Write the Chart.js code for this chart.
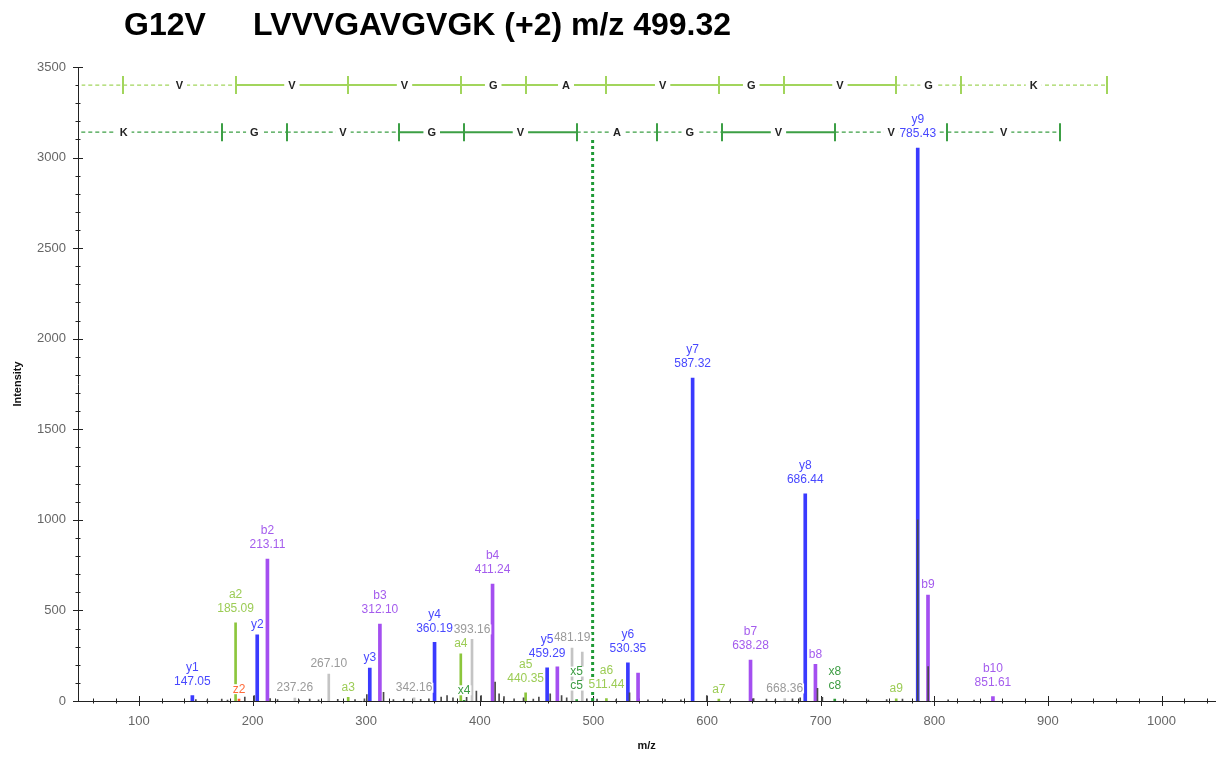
<!DOCTYPE html>
<html lang="en">
<head>
<meta charset="UTF-8">
<title>G12V LVVVGAVGVGK</title>
<script src="https://cdn.jsdelivr.net/npm/chart.js"></script>
<style>
  html, body { margin: 0; padding: 0; background: #fff; }
  #wrap { position: relative; width: 1220px; height: 758px; }
  #spectrum { display: block; }
  .ttl { position: absolute; top: 6px; font: bold 32px "Liberation Sans", Arial, sans-serif; color: #000; white-space: pre; }
</style>
</head>
<body>
<div id="wrap">
  <canvas id="spectrum" width="1220" height="758"></canvas>
  <div class="ttl" style="left:124px">G12V</div>
  <div class="ttl" style="left:253px">LVVVGAVGVGK (+2) m/z 499.32</div>
</div>

<script>
// y ions (blue)
const yIonMz  = [147.05, 204.13, 303.20, 360.19, 459.29, 530.35, 587.32, 686.44, 785.43];
const yIonInt = [30, 365, 182, 324, 183, 211, 1783, 1143, 3053];
const yIonLbl = [['y1', '147.05'], ['y2'], ['y3'], ['y4', '360.19'], ['y5', '459.29'], ['y6', '530.35'], ['y7', '587.32'], ['y8', '686.44'], ['y9', '785.43']];

// b ions (purple)
const bIonMz  = [213.11, 312.10, 411.24, 468.27, 539.30, 638.28, 695.40, 794.47, 851.61];
const bIonInt = [784, 425, 646, 189, 154, 226, 203, 585, 25];
const bIonLbl = [['b2', '213.11'], ['b3', '312.10'], ['b4', '411.24'], [], [], ['b7', '638.28'], ['b8'], ['b9'], ['b10', '851.61']];

// a ions (light green)
const aIonMz  = [185.09, 284.20, 383.30, 440.35, 511.44, 610.40, 766.50];
const aIonInt = [431, 20, 260, 45, 14, 10, 12];
const aIonLbl = [['a2', '185.09'], ['a3'], ['a4'], ['a5', '440.35'], ['a6', '511.44'], ['a7'], ['a9']];

// c / x ions (dark green)
const cxIonMz  = [386.20, 485.30, 712.40];
const cxIonInt = [4, 8, 10];
const cxIonLbl = [['x4'], ['x5', 'c5'], ['x8', 'c8']];

// z ions (orange)
const zIonMz  = [188.10];
const zIonInt = [10];
const zIonLbl = [['z2']];

// unassigned but labelled (grey)
const otherMz  = [237.26, 267.10, 342.16, 393.16, 481.19, 490.20, 668.36];
const otherInt = [16, 149, 18, 340, 292, 270, 14];
const otherLbl = [['237.26'], ['267.10'], ['342.16'], ['393.16'], ['481.19'], [], ['668.36']];

// small unlabelled noise peaks
const noiseMz  = [150.1, 160.2, 172.9, 178.0, 193.2, 201.5, 215.5, 222.0, 241.0, 250.3, 258.1, 275.0, 290.2, 298.5, 300.6,
                  315.3, 324.0, 333.1, 348.0, 355.2, 366.0, 371.2, 376.4, 388.4, 397.0, 401.2, 413.5, 417.0, 421.3, 430.2,
                  438.5, 447.1, 452.0, 462.0, 472.0, 476.5, 494.2, 503.2, 520.0, 531.8, 548.0, 563.1, 577.0, 599.8,
                  620.3, 641.0, 652.3, 660.1, 675.2, 682.0, 697.2, 701.5, 722.0, 742.0, 758.1, 772.0, 785.43, 794.6, 812.2, 835.0];
const noiseInt = [8, 6, 10, 5, 22, 30, 14, 8, 6, 10, 7, 9, 8, 12, 35,
                  48, 8, 10, 9, 12, 22, 30, 18, 20, 55, 30, 105, 40, 25, 12,
                  18, 10, 22, 40, 30, 18, 12, 10, 8, 45, 6, 8, 7, 30,
                  6, 14, 10, 8, 12, 18, 70, 20, 6, 5, 8, 10, 1000, 190, 6, 5];

// precursor
const precursorMz = 499.32;
const precursorTop = 3110;

// sequence ladders: boundaries (first one is the start), residues, observed segments
const aLadderMz   = [0, 86.10, 185.09, 284.20, 383.30, 440.35, 511.44, 610.40, 667.40, 766.50, 823.50, 951.60];
const aLadderRes  = ['L', 'V', 'V', 'V', 'G', 'A', 'V', 'G', 'V', 'G', 'K'];
const aLadderSeen = [false, false, true, true, true, true, true, true, true, false, false];
const aLadderLevel = 3400;

const xLadderMz   = [0, 173.10, 230.10, 329.20, 386.20, 485.30, 556.30, 613.30, 712.40, 811.50, 910.60];
const xLadderRes  = ['K', 'G', 'V', 'G', 'V', 'A', 'G', 'V', 'V', 'V'];
const xLadderSeen = [false, false, false, true, true, false, false, true, false, false];
const xLadderLevel = 3140;

const xTickLabels = [100, 200, 300, 400, 500, 600, 700, 800, 900, 1000];
const yTickLabels = [0, 500, 1000, 1500, 2000, 2500, 3000, 3500];

function pts(mz, ints) {
    return mz.map((m, i) => ({ x: m, y: ints[i] }));
}

function peakSet(mz, ints, lbl, color, textColor, width) {
    return {
        type: 'bar',
        data: pts(mz, ints),
        peakText: lbl,
        textColor: textColor,
        backgroundColor: color,
        borderWidth: 0,
        barThickness: width,
        grouped: false
    };
}

// crossing tick marks on both axes
const axisTicks = {
    id: 'axisTicks',
    beforeDatasetsDraw(chart) {
        const { ctx, chartArea: a, scales: { x, y } } = chart;
        ctx.save();
        ctx.strokeStyle = '#222';
        ctx.lineWidth = 1;
        ctx.beginPath();
        x.ticks.forEach(t => {
            if (t.value % 20) return;
            const px = Math.round(x.getPixelForValue(t.value)) + 0.5;
            const h = t.value % 100 ? 2.5 : 5;
            ctx.moveTo(px, a.bottom - h);
            ctx.lineTo(px, a.bottom + h);
        });
        y.ticks.forEach(t => {
            if (t.value % 100) return;
            const py = Math.round(y.getPixelForValue(t.value)) + 0.5;
            const h = t.value % 500 ? 2.5 : 5;
            ctx.moveTo(a.left - h, py);
            ctx.lineTo(a.left + h, py);
        });
        ctx.stroke();
        ctx.restore();
    }
};

function drawLadder(ctx, x, py, marks, res, seen, color) {
    for (let i = 0; i < res.length; i++) {
        const x0 = x.getPixelForValue(marks[i]);
        const x1 = x.getPixelForValue(marks[i + 1]);
        ctx.strokeStyle = color;
        ctx.lineWidth = seen[i] ? 2 : 1.3;
        ctx.setLineDash(seen[i] ? [] : [4, 3]);
        ctx.beginPath();
        ctx.moveTo(x0, py);
        ctx.lineTo(x1, py);
        ctx.stroke();
    }
    ctx.setLineDash([]);
    ctx.lineWidth = 2;
    ctx.beginPath();
    for (let i = 1; i < marks.length; i++) {
        const px = Math.round(x.getPixelForValue(marks[i]));
        ctx.moveTo(px, py - 9);
        ctx.lineTo(px, py + 9);
    }
    ctx.stroke();
    ctx.font = 'bold 11px "Liberation Sans", Arial, sans-serif';
    ctx.textAlign = 'center';
    ctx.textBaseline = 'middle';
    for (let i = 0; i < res.length; i++) {
        const cx = (x.getPixelForValue(marks[i]) + x.getPixelForValue(marks[i + 1])) / 2;
        const w = ctx.measureText(res[i]).width;
        ctx.fillStyle = '#fff';
        ctx.fillRect(cx - w / 2 - 4, py - 6, w + 8, 12);
        ctx.fillStyle = '#222';
        ctx.fillText(res[i], cx, py + 1);
    }
}

const ladders = {
    id: 'ladders',
    afterDatasetsDraw(chart) {
        const { ctx, chartArea: a, scales: { x, y } } = chart;
        ctx.save();
        ctx.beginPath();
        ctx.rect(a.left + 1, a.top, a.right - a.left - 1, a.bottom - a.top);
        ctx.clip();
        drawLadder(ctx, x, y.getPixelForValue(aLadderLevel), aLadderMz, aLadderRes, aLadderSeen, '#a2d55c');
        drawLadder(ctx, x, y.getPixelForValue(xLadderLevel), xLadderMz, xLadderRes, xLadderSeen, '#3c9f45');
        ctx.restore();
    }
};

const peakLabels = {
    id: 'peakLabels',
    afterDatasetsDraw(chart) {
        const ctx = chart.ctx;
        ctx.save();
        ctx.font = '12px "Liberation Sans", Arial, sans-serif';
        ctx.textAlign = 'center';
        ctx.textBaseline = 'middle';
        for (let i = chart.data.datasets.length - 1; i >= 0; i--) {
            const ds = chart.data.datasets[i];
            if (!ds.peakText) continue;
            chart.getDatasetMeta(i).data.forEach((bar, j) => {
                const lines = ds.peakText[j] || [];
                const n = lines.length;
                lines.forEach((t, k) => {
                    const off = n === 1 ? 10 : 14 + (n - 1 - k) * 14;
                    const ty = bar.y - off;
                    const w = ctx.measureText(t).width;
                    ctx.fillStyle = '#fff';
                    ctx.fillRect(bar.x - w / 2 - 1, ty - 5, w + 2, 10);
                    ctx.fillStyle = ds.textColor;
                    ctx.fillText(t, bar.x, ty);
                });
            });
        }
        ctx.restore();
    }
};

const ctx = document.getElementById('spectrum').getContext('2d');
new Chart(ctx, {
    data: {
        datasets: [
            peakSet(noiseMz, noiseInt, null, '#4a4a4a', '#444', 1),
            {
                type: 'line',
                data: [{ x: precursorMz, y: 0 }, { x: precursorMz, y: precursorTop }],
                borderColor: '#1f9a36',
                borderWidth: 3,
                borderDash: [3, 3],
                pointRadius: 0
            },
            peakSet(yIonMz, yIonInt, yIonLbl, '#3a3aff', '#4848ff', 3),
            peakSet(bIonMz, bIonInt, bIonLbl, '#a44ff0', '#a45ced', 3),
            peakSet(cxIonMz, cxIonInt, cxIonLbl, '#2f9a3a', '#3d9c43', 2),
            peakSet(aIonMz, aIonInt, aIonLbl, '#8cc63c', '#9ccc55', 2),
            peakSet(zIonMz, zIonInt, zIonLbl, '#ff5a2a', '#ff6a3a', 2),
            peakSet(otherMz, otherInt, otherLbl, '#c4c4c4', '#9a9a9a', 2)
        ]
    },
    options: {
        responsive: false,
        animation: false,
        layout: { padding: { top: 67, right: 2, bottom: 0, left: 0 } },
        plugins: {
            legend: { display: false },
            tooltip: { enabled: false }
        },
        scales: {
            x: {
                type: 'linear',
                min: 46.4,
                max: 1047.4,
                offset: false,
                grid: { display: false, drawTicks: false },
                border: { display: true, color: '#222', width: 1 },
                ticks: {
                    stepSize: 20,
                    includeBounds: false,
                    autoSkip: false,
                    maxRotation: 0,
                    padding: 13,
                    color: '#666',
                    font: { family: '"Liberation Sans", Arial, sans-serif', size: 13 },
                    callback: v => xTickLabels.includes(v) ? String(v) : ''
                },
                title: {
                    display: true,
                    text: 'm/z',
                    color: '#111',
                    font: { family: '"Liberation Sans", Arial, sans-serif', size: 11, weight: 'bold' },
                    padding: { top: 0, bottom: 5 }
                },
                afterFit: s => { s.height = 57; }
            },
            y: {
                type: 'linear',
                min: 0,
                max: 3500,
                grid: { display: false, drawTicks: false },
                border: { display: true, color: '#222', width: 1 },
                ticks: {
                    stepSize: 100,
                    autoSkip: false,
                    padding: 12,
                    color: '#666',
                    font: { family: '"Liberation Sans", Arial, sans-serif', size: 13 },
                    callback: v => yTickLabels.includes(v) ? String(v) : ''
                },
                title: {
                    display: true,
                    text: 'Intensity',
                    color: '#111',
                    font: { family: '"Liberation Sans", Arial, sans-serif', size: 11, weight: 'bold' },
                    padding: { top: 11, bottom: 0 }
                },
                afterFit: s => { s.width = 78; }
            }
        }
    },
    plugins: [axisTicks, ladders, peakLabels]
});
</script>
</body>
</html>
